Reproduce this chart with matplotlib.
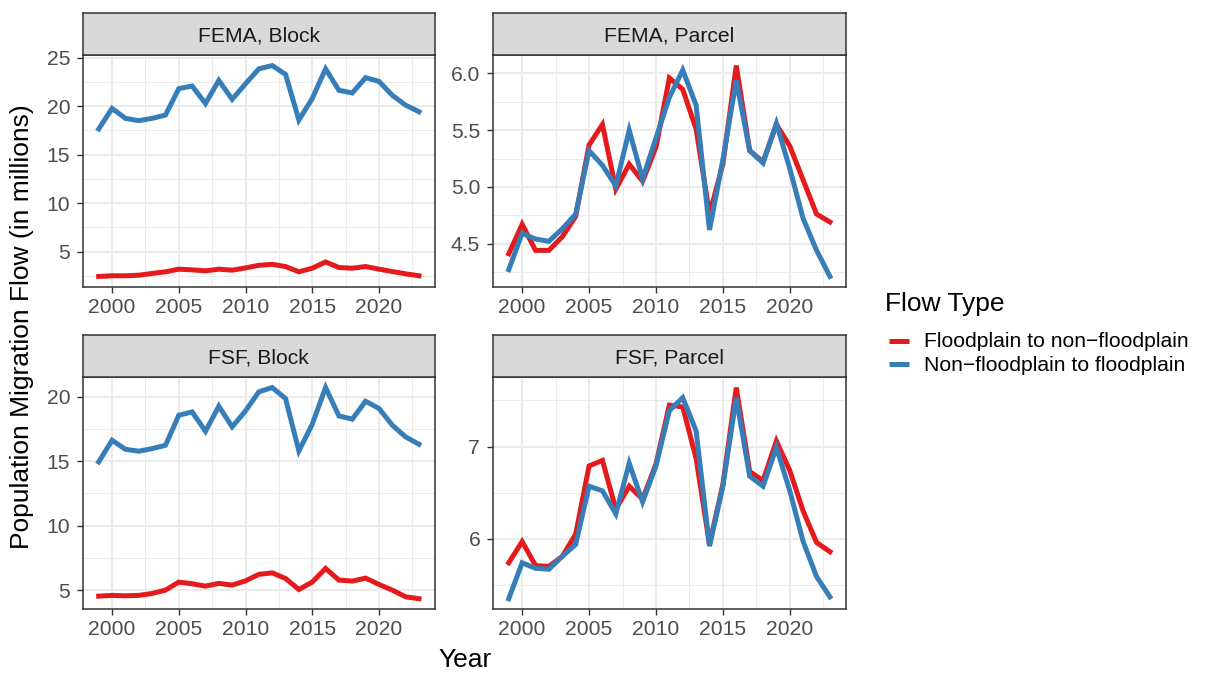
import numpy as np
import matplotlib.pyplot as plt
from matplotlib.lines import Line2D
from matplotlib.ticker import MultipleLocator, FormatStrFormatter

plt.rcParams['font.family'] = ['Liberation Sans', 'DejaVu Sans']

# %% Data (population migration flow, millions)
years = np.arange(1999, 2024)

fema_block_out = [2.45, 2.52, 2.52, 2.58, 2.76, 2.93, 3.20, 3.13, 3.03, 3.20, 3.10, 3.33, 3.60,
                  3.70, 3.47, 2.93, 3.30, 3.95, 3.37, 3.30, 3.47, 3.20, 2.96, 2.72, 2.52]
fema_block_in = [17.65, 19.76, 18.74, 18.50, 18.74, 19.08, 21.80, 22.07, 20.27, 22.65, 20.70, 22.30, 23.84,
                 24.18, 23.27, 18.57, 20.78, 23.84, 21.63, 21.36, 22.93, 22.55, 21.12, 20.10, 19.42]

fema_parcel_out = [4.41, 4.67, 4.44, 4.44, 4.56, 4.74, 5.37, 5.55, 4.98, 5.20, 5.05, 5.35, 5.96,
                   5.86, 5.51, 4.76, 5.20, 6.07, 5.32, 5.22, 5.55, 5.36, 5.06, 4.76, 4.69]
fema_parcel_in = [4.27, 4.59, 4.54, 4.52, 4.63, 4.76, 5.32, 5.19, 5.01, 5.50, 5.07, 5.43, 5.79,
                  6.03, 5.72, 4.62, 5.24, 5.94, 5.32, 5.21, 5.56, 5.16, 4.72, 4.44, 4.21]

fsf_block_out = [4.53, 4.59, 4.56, 4.59, 4.74, 5.00, 5.62, 5.49, 5.31, 5.52, 5.39, 5.72, 6.22,
                 6.34, 5.90, 5.05, 5.62, 6.68, 5.78, 5.70, 5.93, 5.44, 5.00, 4.48, 4.33]
fsf_block_in = [14.95, 16.63, 15.93, 15.78, 15.98, 16.24, 18.57, 18.83, 17.33, 19.27, 17.67, 18.91, 20.39,
                20.72, 19.87, 15.80, 17.87, 20.72, 18.52, 18.27, 19.66, 19.10, 17.80, 16.89, 16.32]

fsf_parcel_out = [5.74, 5.97, 5.71, 5.70, 5.81, 6.05, 6.79, 6.85, 6.32, 6.57, 6.43, 6.81, 7.45,
                  7.43, 6.87, 5.94, 6.59, 7.64, 6.73, 6.63, 7.06, 6.74, 6.30, 5.96, 5.86]
fsf_parcel_in = [5.35, 5.74, 5.68, 5.67, 5.81, 5.94, 6.57, 6.52, 6.27, 6.82, 6.40, 6.79, 7.39,
                 7.53, 7.17, 5.92, 6.57, 7.53, 6.68, 6.57, 6.99, 6.52, 5.97, 5.59, 5.37]

panel_titles = ['FEMA, Block', 'FEMA, Parcel', 'FSF, Block', 'FSF, Parcel']
series_labels = ['Floodplain to non\u2212floodplain', 'Non\u2212floodplain to floodplain']
series_colors = ['#E41A1C', '#377EB8']

panels = [
    (fema_block_out, fema_block_in, 5, '%d'),
    (fema_parcel_out, fema_parcel_in, 0.5, '%.1f'),
    (fsf_block_out, fsf_block_in, 5, '%d'),
    (fsf_parcel_out, fsf_parcel_in, 1, '%d'),
]

# %% Figure layout (theme_bw look, 2x2 facets with free y scales)
W, H = 1207, 675
fig = plt.figure(figsize=(W / 100, H / 100), dpi=100)

col_x = [(82.7, 435.0), (492.7, 846.0)]
row_y = [(13.0, 55.0, 287.0), (335.0, 377.0, 609.3)]  # strip top, plot top, plot bottom

grid_col = '#EBEBEB'
border_col = '#333333'
small_fs = 15.2
title_fs = 19

for i, (out, inn, step, fmt) in enumerate(panels):
    r, c = divmod(i, 2)
    x0, x1 = col_x[c]
    st, pt, pb = row_y[r]
    ax = fig.add_axes([x0 / W, 1 - pb / H, (x1 - x0) / W, (pb - pt) / H])
    sax = fig.add_axes([x0 / W, 1 - pt / H, (x1 - x0) / W, (pt - st) / H])

    for vals, col in zip((out, inn), series_colors):
        ax.plot(years, vals, color=col, lw=3.6, solid_joinstyle='miter', zorder=3)

    # 5% expansion on both scales
    lo = min(min(out), min(inn))
    hi = max(max(out), max(inn))
    pad = 0.05 * (hi - lo)
    ax.set_ylim(lo - pad, hi + pad)
    ax.set_xlim(1999 - 1.2, 2023 + 1.2)

    ax.xaxis.set_major_locator(MultipleLocator(5))
    ax.xaxis.set_minor_locator(MultipleLocator(2.5))
    ax.yaxis.set_major_locator(MultipleLocator(step))
    ax.yaxis.set_minor_locator(MultipleLocator(step / 2))
    ax.yaxis.set_major_formatter(FormatStrFormatter(fmt))

    ax.grid(which='major', color=grid_col, lw=1.45, zorder=0)
    ax.grid(which='minor', color=grid_col, lw=0.75, zorder=0)
    ax.set_axisbelow(True)
    ax.tick_params(which='major', length=4, width=1.0, color=border_col,
                   labelsize=small_fs, labelcolor='#4D4D4D')
    ax.tick_params(axis='x', which='major', pad=3.6)
    ax.tick_params(axis='y', which='major', pad=5)
    ax.tick_params(which='minor', length=0)
    for sp in ax.spines.values():
        sp.set_color(border_col)
        sp.set_linewidth(1.1)

    # facet strip
    sax.set_facecolor('#D9D9D9')
    sax.set_xticks([])
    sax.set_yticks([])
    for sp in sax.spines.values():
        sp.set_color(border_col)
        sp.set_linewidth(1.1)
    sax.text(0.5, 0.317, panel_titles[i], transform=sax.transAxes, ha='center', va='baseline',
             fontsize=small_fs, color='#1A1A1A')

fig.text(465 / W, 1 - 666.7 / H, 'Year', ha='center', va='baseline', fontsize=title_fs)
fig.text(22 / W, 1 - 326.5 / H, 'Population Migration Flow (in millions)', ha='center', va='center',
         rotation=90, fontsize=title_fs)

# legend drawn by hand in figure pixels
fig.text(885 / W, 1 - 310.7 / H, 'Flow Type', ha='left', va='baseline', fontsize=title_fs)
for k, (lab, col) in enumerate(zip(series_labels, series_colors)):
    yk = 340.8 + 23.3 * k
    fig.add_artist(Line2D([889 / W, 909 / W], [1 - yk / H, 1 - yk / H], color=col, lw=3.6,
                          solid_capstyle='butt', transform=fig.transFigure))
    fig.text(923.5 / W, 1 - (yk + 6.5) / H, lab, ha='left', va='baseline', fontsize=small_fs)

fig.savefig('out.png', dpi=100)
